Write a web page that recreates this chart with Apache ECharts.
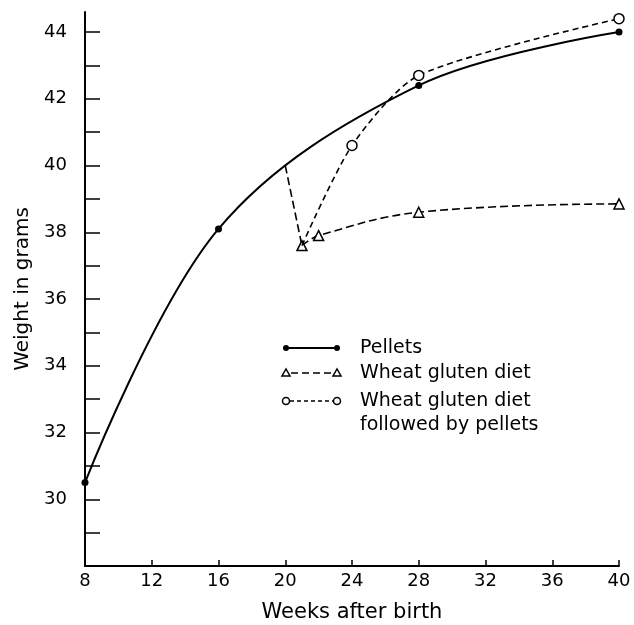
<!DOCTYPE html>
<html>
<head>
<meta charset="utf-8">
<script src="https://cdn.jsdelivr.net/npm/echarts@6/dist/echarts.min.js"></script>
<style>
  html, body { margin: 0; padding: 0; background: #fff; }
  #main { width: 634px; height: 625px; }
</style>
</head>
<body>
<div id="main"></div>
<script>
// data
var xTicks = [8, 12, 16, 20, 24, 28, 32, 36, 40];
var yTickLabels = [30, 32, 34, 36, 38, 40, 42, 44];
var yMinorTicks = [29, 30, 31, 32, 33, 34, 35, 36, 37, 38, 39, 40, 41, 42, 43, 44];

var pelletsWeeks = [8, 16, 28, 40];
var pelletsWeight = [30.5, 38.1, 42.4, 44.0];

// drop from the pellets curve to the first gluten reading
var dropWeeks = [20, 21];
var dropWeight = [40.0, 37.6];

var glutenWeeks = [21, 22, 28, 40];
var glutenWeight = [37.6, 37.9, 38.6, 38.85];

// first point is the bottom of the gluten dip (marked by the triangle)
var switchWeeks = [21, 24, 28, 40];
var switchWeight = [37.6, 40.6, 42.7, 44.4];

var legendLines = ['Pellets', 'Wheat gluten diet', 'Wheat gluten diet', 'followed by pellets'];

function pairs(xs, ys, hideFirst) {
  var out = [];
  for (var i = 0; i < xs.length; i++) {
    var item = { value: [xs[i], ys[i]] };
    if (hideFirst && i === 0) item.symbol = 'none';
    out.push(item);
  }
  return out;
}

var font = 'DejaVu Sans';
var chart = echarts.init(document.getElementById('main'), null, { renderer: 'canvas' });

// hand drawn legend, placed like the original
var lx0 = 286, lx1 = 337, tx = 360;
var rows = [348, 373, 401, 425];
var legendGraphics = [
  { type: 'line', shape: { x1: lx0, y1: rows[0], x2: lx1, y2: rows[0] }, style: { stroke: '#000', lineWidth: 2 } },
  { type: 'circle', shape: { cx: lx0, cy: rows[0], r: 3 }, style: { fill: '#000' } },
  { type: 'circle', shape: { cx: lx1, cy: rows[0], r: 3 }, style: { fill: '#000' } },
  { type: 'line', shape: { x1: lx0 + 5, y1: rows[1], x2: lx1 - 5, y2: rows[1] }, style: { stroke: '#000', lineWidth: 1.6, lineDash: [7, 4] } },
  { type: 'polygon', shape: { points: [[lx0 - 4, rows[1] + 3], [lx0 + 4, rows[1] + 3], [lx0, rows[1] - 4]] }, style: { fill: '#fff', stroke: '#000', lineWidth: 1.5 } },
  { type: 'polygon', shape: { points: [[lx1 - 4, rows[1] + 3], [lx1 + 4, rows[1] + 3], [lx1, rows[1] - 4]] }, style: { fill: '#fff', stroke: '#000', lineWidth: 1.5 } },
  { type: 'line', shape: { x1: lx0 + 4, y1: rows[2], x2: lx1 - 4, y2: rows[2] }, style: { stroke: '#000', lineWidth: 1.6, lineDash: [4, 3] } },
  { type: 'circle', shape: { cx: lx0, cy: rows[2], r: 3.5 }, style: { fill: '#fff', stroke: '#000', lineWidth: 1.5 } },
  { type: 'circle', shape: { cx: lx1, cy: rows[2], r: 3.5 }, style: { fill: '#fff', stroke: '#000', lineWidth: 1.5 } }
];
for (var r = 0; r < rows.length; r++) {
  legendGraphics.push({
    type: 'text',
    x: tx, y: rows[r],
    style: { text: legendLines[r], fill: '#000', font: '19px ' + font, verticalAlign: 'middle' }
  });
}

var lineBlack = { color: '#000', width: 2 };
var openMark = { color: '#fff', borderColor: '#000', borderWidth: 1.5 };

var option = {
  backgroundColor: '#fff',
  animation: false,
  grid: { left: 85, right: 15, top: 12, bottom: 59, containLabel: false, outerBoundsMode: 'none' },
  xAxis: {
    type: 'value',
    min: 8,
    max: 40,
    interval: 4,
    name: 'Weeks after birth',
    nameLocation: 'middle',
    nameGap: 36,
    nameTextStyle: { color: '#000', fontSize: 21, fontFamily: font },
    axisLine: { onZero: false, lineStyle: { color: '#000', width: 2 } },
    axisTick: { inside: true, length: 6, lineStyle: { color: '#000', width: 1.5 } },
    axisLabel: { color: '#000', fontSize: 18, fontFamily: font, margin: 6 },
    splitLine: { show: false }
  },
  yAxis: {
    type: 'value',
    min: 28,
    max: 44.6,
    name: 'Weight in grams',
    nameLocation: 'middle',
    nameGap: 51,
    nameTextStyle: { color: '#000', fontSize: 20, fontFamily: font },
    axisLine: { onZero: false, lineStyle: { color: '#000', width: 2 } },
    axisTick: { inside: true, length: 15, customValues: yMinorTicks, lineStyle: { color: '#000', width: 1.5 } },
    axisLabel: { color: '#000', fontSize: 18, fontFamily: font, margin: 18, customValues: yTickLabels },
    splitLine: { show: false }
  },
  graphic: legendGraphics,
  series: [
    {
      name: 'Pellets',
      type: 'line',
      smooth: 0.35,
      data: pairs(pelletsWeeks, pelletsWeight, false),
      symbol: 'circle',
      symbolSize: 7,
      itemStyle: { color: '#000' },
      lineStyle: lineBlack,
      z: 3
    },
    {
      name: 'Wheat gluten diet (drop)',
      type: 'line',
      data: pairs(dropWeeks, dropWeight, false),
      symbol: 'none',
      lineStyle: { color: '#000', width: 1.6, type: [8, 4] },
      z: 4
    },
    {
      name: 'Wheat gluten diet',
      type: 'line',
      smooth: 0.4,
      data: pairs(glutenWeeks, glutenWeight, false),
      symbol: 'triangle',
      symbolSize: 10,
      itemStyle: openMark,
      lineStyle: { color: '#000', width: 1.6, type: [8, 4] },
      z: 4
    },
    {
      name: 'Wheat gluten diet followed by pellets',
      type: 'line',
      smooth: 0.25,
      data: pairs(switchWeeks, switchWeight, true),
      symbol: 'circle',
      symbolSize: 10,
      itemStyle: openMark,
      lineStyle: { color: '#000', width: 1.6, type: [6, 4] },
      z: 5
    }
  ]
};

chart.setOption(option);
</script>
</body>
</html>
